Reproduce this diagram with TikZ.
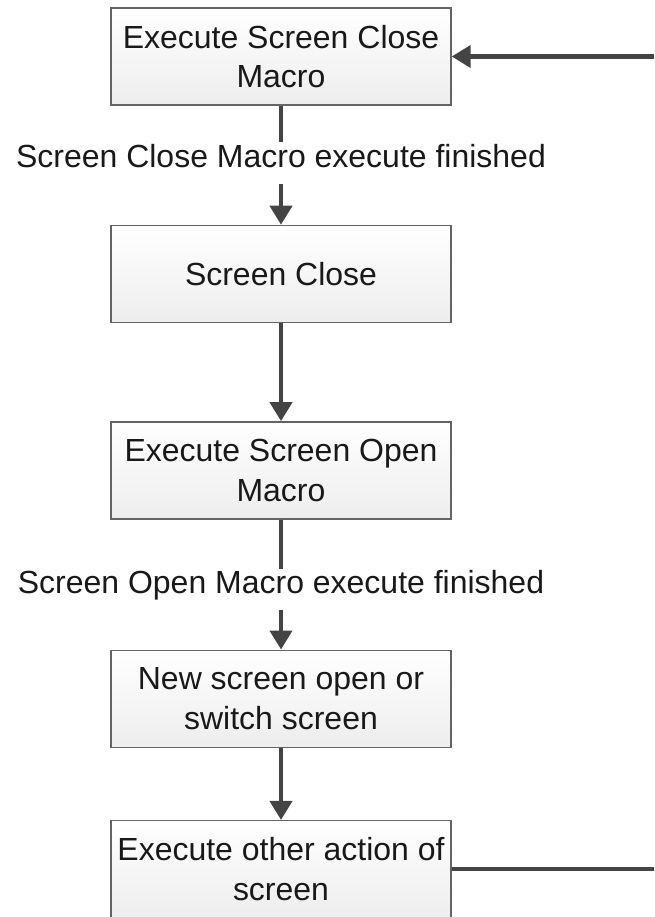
\documentclass[tikz,border=0pt]{standalone}
\usepackage{fontspec}
\setmainfont{Liberation Sans}
\usetikzlibrary{arrows.meta, positioning}
\definecolor{flowline}{RGB}{68,68,68}
\definecolor{boxedge}{RGB}{100,100,100}

\begin{document}
\begin{tikzpicture}[
        flow box/.style={
            rectangle,
            draw=boxedge,
            line width=0.8pt,
            top color=white,
            bottom color=gray!14,
            minimum width=6.8cm,
            minimum height=1.94cm,
            align=center,
            text=black!90,
            font=\fontsize{18.2}{22.4}\selectfont
        },
        flow arrow/.style={
            -{Triangle[length=0.38cm, width=0.44cm]},
            line width=2.4pt,
            draw=flowline
        },
        cond_label/.style={
            fill=white,
            inner sep=0.04cm,
            text depth=0.28cm,
            text=black!90,
            font=\fontsize{18.2}{22.4}\selectfont
        }
    ]
        \useasboundingbox (0,0) rectangle (13.08,-18.34);

        % --- FLOW BOXES ---
        \node[flow box] (closemacro) at (5.62,-1.13) {Execute Screen Close\\Macro};
        \node[flow box, below=2.38cm of closemacro] (close) {Screen Close};
        \node[flow box, below=1.96cm of close] (openmacro) {Execute Screen Open\\Macro};
        \node[flow box, below=2.6cm of openmacro] (open) {New screen open or\\switch screen};
        \node[flow box, below=1.44cm of open] (other) {Execute other action of\\screen};

        % --- LOOP ENDS AT THE RIGHT EDGE ---
        \coordinate (rightedge) at (13.08,0);
        \coordinate (loopin) at (closemacro.east -| rightedge);
        \coordinate (loopout) at (other.east -| rightedge);

        % --- ARROWS DOWN THE FLOW ---
        \draw[flow arrow] (closemacro) -- (close)
            node[pos=0.482, cond_label] {Screen Close Macro execute finished};
        \draw[flow arrow] (close) -- (openmacro);
        \draw[flow arrow] (openmacro) -- (open)
            node[pos=0.537, cond_label] {Screen Open Macro execute finished};
        \draw[flow arrow] (open) -- (other);

        % --- RETURN LINE ---
        \draw[line width=2.4pt, flowline] (other.east) -- (loopout);
        \draw[flow arrow] (loopin) -- (closemacro.east);

    \end{tikzpicture}
\end{document}
